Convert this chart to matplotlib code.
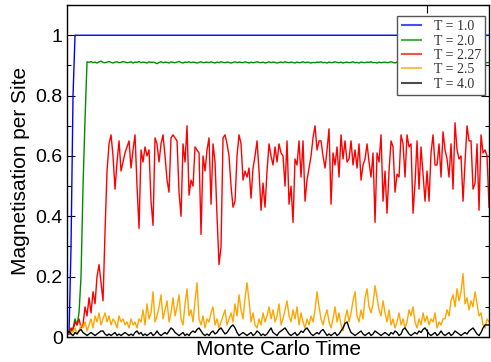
import numpy as np
import matplotlib
matplotlib.use("Agg")
import matplotlib.pyplot as plt
from matplotlib.ticker import MultipleLocator, FormatStrFormatter

# Monte Carlo sweeps between stored samples
step = 50

# magnetisation per site for each temperature
m_t10 = [0.01, 0.01, 0.30, 0.80] + [1.0] * 208

m_t20 = [0.02, 0.01, 0.02, 0.03, 0.06, 0.04, 0.08, 0.20, 0.50, 0.72,
         0.912, 0.910, 0.913, 0.909, 0.911, 0.908, 0.912, 0.914, 0.910, 0.909,
         0.911, 0.913, 0.910, 0.908, 0.911, 0.912, 0.909, 0.910, 0.913, 0.911,
         0.909, 0.910, 0.912, 0.908, 0.911, 0.910, 0.913, 0.909, 0.911, 0.910,
         0.908, 0.912, 0.910, 0.911, 0.909, 0.906, 0.910, 0.912, 0.909, 0.911,
         0.910, 0.908, 0.912, 0.910, 0.909, 0.911, 0.913, 0.910, 0.908, 0.911,
         0.910, 0.912, 0.909, 0.911, 0.910, 0.908, 0.910, 0.912, 0.909, 0.910,
         0.911, 0.909, 0.912, 0.910, 0.908, 0.911, 0.909, 0.912, 0.910, 0.909,
         0.911, 0.910, 0.908, 0.910, 0.912, 0.909, 0.911, 0.910, 0.909, 0.912,
         0.910, 0.908, 0.911, 0.909, 0.910, 0.912, 0.910, 0.909, 0.911, 0.908,
         0.910, 0.912, 0.909, 0.911, 0.910, 0.908, 0.910, 0.911, 0.909, 0.912,
         0.910, 0.909, 0.911, 0.910, 0.908, 0.911, 0.909, 0.910, 0.912, 0.909,
         0.911, 0.910, 0.908, 0.910, 0.909, 0.911, 0.910, 0.912, 0.909, 0.910,
         0.908, 0.911, 0.909, 0.910, 0.912, 0.910, 0.909, 0.911, 0.908, 0.910,
         0.911, 0.909, 0.910, 0.912, 0.909, 0.910, 0.908, 0.911, 0.910, 0.909,
         0.911, 0.910, 0.912, 0.909, 0.910, 0.908, 0.911, 0.909, 0.910, 0.911,
         0.909, 0.910, 0.912, 0.910, 0.908, 0.911, 0.909, 0.910, 0.911, 0.909,
         0.910, 0.908, 0.911, 0.910, 0.912, 0.909, 0.910, 0.911, 0.909, 0.910,
         0.908, 0.911, 0.910, 0.909, 0.911, 0.910, 0.908, 0.910, 0.912, 0.909,
         0.910, 0.911, 0.909, 0.910, 0.908, 0.911, 0.910, 0.909, 0.911, 0.910,
         0.909, 0.911, 0.910, 0.908, 0.910, 0.911, 0.909, 0.910, 0.912, 0.910,
         0.909, 0.910]

m_t227 = [0.02, 0.01, 0.03, 0.02, 0.05, 0.04, 0.06, 0.03, 0.04, 0.10,
          0.07, 0.13, 0.08, 0.15, 0.11, 0.20, 0.24, 0.18, 0.12, 0.35,
          0.55, 0.64, 0.67,
          0.60, 0.49, 0.58, 0.65, 0.55, 0.58, 0.61, 0.63, 0.65, 0.56,
          0.62, 0.67, 0.50, 0.36, 0.62, 0.58, 0.63, 0.60, 0.62, 0.45,
          0.37, 0.66, 0.64, 0.58, 0.64, 0.67, 0.60, 0.52, 0.48, 0.66,
          0.67, 0.66, 0.65, 0.48, 0.40, 0.64, 0.58, 0.70, 0.47, 0.52,
          0.50, 0.63, 0.62, 0.61, 0.34, 0.60, 0.55, 0.62, 0.66, 0.44,
          0.64, 0.58, 0.40, 0.24, 0.30, 0.66, 0.67, 0.64, 0.60, 0.50,
          0.43, 0.45, 0.60, 0.67, 0.64, 0.52, 0.55, 0.53, 0.56, 0.46,
          0.56, 0.60, 0.65, 0.55, 0.42, 0.51, 0.43, 0.55, 0.64, 0.60,
          0.57, 0.63, 0.58, 0.64,
          0.61, 0.60, 0.50, 0.65, 0.44, 0.50, 0.38, 0.59, 0.57, 0.65,
          0.53, 0.65, 0.45, 0.52, 0.56, 0.60, 0.66, 0.70, 0.62, 0.65,
          0.65, 0.60, 0.56, 0.62, 0.69, 0.44, 0.61, 0.57, 0.63, 0.53,
          0.67, 0.59, 0.65, 0.58, 0.59, 0.65, 0.57, 0.62, 0.56, 0.64,
          0.52, 0.57, 0.59, 0.64, 0.58, 0.53, 0.61, 0.38, 0.61, 0.58,
          0.67, 0.45, 0.55,
          0.41, 0.55, 0.65, 0.63, 0.48, 0.54, 0.53, 0.67, 0.64, 0.53,
          0.67, 0.63, 0.64, 0.41, 0.51, 0.65, 0.49, 0.63, 0.54, 0.45,
          0.55, 0.45, 0.61, 0.67, 0.57, 0.57, 0.64, 0.53, 0.68, 0.62,
          0.59, 0.53, 0.64, 0.49, 0.71, 0.62, 0.59, 0.60, 0.45, 0.58,
          0.70, 0.65, 0.65, 0.49, 0.51, 0.64, 0.42, 0.67, 0.61, 0.62,
          0.60, 0.43]

m_t25 = [0.01, 0.02, 0.01, 0.02, 0.03, 0.01, 0.02,
         0.04, 0.03, 0.05, 0.02, 0.04, 0.06, 0.03,
         0.07, 0.05, 0.08, 0.04, 0.06, 0.08, 0.05, 0.07, 0.04, 0.06,
         0.05, 0.03, 0.07, 0.05, 0.06, 0.04, 0.05, 0.03, 0.06, 0.04, 0.05, 0.03, 0.06,
         0.05, 0.09, 0.04, 0.11, 0.06, 0.08, 0.15, 0.05, 0.07,
         0.10, 0.14, 0.06, 0.09, 0.12, 0.05, 0.08, 0.13, 0.07, 0.10,
         0.14, 0.06, 0.04, 0.11, 0.16, 0.07, 0.09, 0.05, 0.12, 0.18, 0.06,
         0.04, 0.07, 0.03, 0.06, 0.05, 0.08, 0.10, 0.04, 0.06, 0.03,
         0.05, 0.07, 0.09, 0.04, 0.06, 0.08, 0.05, 0.11, 0.07, 0.14,
         0.09, 0.06, 0.13, 0.18,
         0.12, 0.05, 0.08, 0.04, 0.03, 0.06, 0.04, 0.08, 0.05, 0.07,
         0.10, 0.06, 0.09, 0.05, 0.07, 0.11, 0.04, 0.06, 0.09, 0.12,
         0.07, 0.05, 0.09, 0.06, 0.10, 0.04, 0.08, 0.05, 0.03, 0.06,
         0.04, 0.07, 0.05, 0.09, 0.15,
         0.10, 0.06, 0.04, 0.07, 0.09, 0.05, 0.03, 0.06, 0.10, 0.05,
         0.08, 0.04, 0.02, 0.06, 0.09, 0.05, 0.08, 0.12, 0.15, 0.07,
         0.05, 0.09, 0.06,
         0.13, 0.16, 0.10, 0.08, 0.11, 0.17, 0.13, 0.09, 0.07, 0.12,
         0.08, 0.05, 0.09, 0.04, 0.06, 0.03, 0.05, 0.08, 0.04,
         0.06, 0.03, 0.05, 0.09, 0.07, 0.10, 0.05, 0.03, 0.06, 0.04,
         0.08, 0.05, 0.07, 0.04, 0.06, 0.05, 0.08, 0.03, 0.05, 0.04, 0.06,
         0.06, 0.09, 0.07, 0.12, 0.14, 0.10, 0.16, 0.12, 0.15, 0.21,
         0.11, 0.13, 0.09, 0.12, 0.10, 0.15, 0.11, 0.07, 0.08, 0.04,
         0.03, 0.06, 0.05]

m_t40 = [0.01, 0.02, 0.01, 0.005, 0.015, 0.01, 0.02, 0.025, 0.015, 0.01,
         0.005, 0.01, 0.015, 0.01, 0.005, 0.01, 0.015, 0.02, 0.02, 0.01,
         0.005, 0.01, 0.005, 0.01, 0.015, 0.005, 0.01, 0.005, 0.01, 0.015,
         0.01, 0.005, 0.01, 0.005, 0.015, 0.02, 0.01, 0.015, 0.005, 0.01,
         0.005, 0.01, 0.015, 0.005, 0.01, 0.02, 0.01, 0.005, 0.01, 0.015,
         0.01, 0.02, 0.03, 0.025, 0.015, 0.01, 0.005, 0.01, 0.015, 0.005,
         0.01, 0.005, 0.015, 0.02, 0.015, 0.025, 0.03, 0.02, 0.01, 0.005,
         0.01, 0.005, 0.015, 0.02, 0.01, 0.015, 0.025, 0.03, 0.02, 0.01,
         0.015, 0.025, 0.035, 0.04, 0.03, 0.015, 0.005, 0.01, 0.015, 0.01,
         0.005, 0.01, 0.015, 0.005, 0.01, 0.02, 0.015, 0.005, 0.01, 0.005,
         0.01, 0.02, 0.03, 0.015, 0.01, 0.005, 0.015, 0.02, 0.025, 0.03,
         0.02, 0.01, 0.005, 0.01, 0.015, 0.005, 0.01, 0.02, 0.015, 0.025,
         0.03, 0.02, 0.01, 0.005, 0.01, 0.015, 0.01, 0.02, 0.025, 0.015,
         0.005, 0.01, 0.005, 0.01, 0.015, 0.005, 0.01, 0.02, 0.03, 0.045,
         0.05, 0.03, 0.015, 0.01, 0.005, 0.01, 0.015, 0.02, 0.01, 0.005,
         0.01, 0.015, 0.005, 0.01, 0.02, 0.015, 0.01, 0.005, 0.01, 0.015,
         0.01, 0.005, 0.015, 0.01, 0.02, 0.015, 0.005, 0.01, 0.025, 0.03,
         0.02, 0.01, 0.005, 0.01, 0.015, 0.01, 0.02, 0.015, 0.025, 0.03,
         0.02, 0.01, 0.005, 0.01, 0.015, 0.005, 0.01, 0.02, 0.01, 0.005,
         0.01, 0.015, 0.005, 0.01, 0.02, 0.015, 0.01, 0.005, 0.01, 0.015,
         0.01, 0.02, 0.025, 0.03, 0.02, 0.01, 0.005, 0.015, 0.03, 0.04,
         0.04, 0.04]

labels = ["T = 1.0", "T = 2.0", "T = 2.27", "T = 2.5", "T = 4.0"]
colors = ["#0000ff", "#008c00", "#ff0000", "#ffa500", "#000000"]
series = [m_t10, m_t20, m_t227, m_t25, m_t40]

fig = plt.figure(figsize=(4.91, 3.62), dpi=100)
ax = fig.add_axes([0.1365, 0.069, 0.8595, 0.917])

for ys, lab, col in zip(series, labels, colors):
    xs = np.arange(len(ys)) * step
    ax.plot(xs, ys, color=col, lw=1.0, label=lab)

ax.set_xlim(0, 211 * step)
ax.set_ylim(0, 1.1)

ax.set_xticks([9000])
ax.set_xticklabels([])
ax.yaxis.set_major_locator(MultipleLocator(0.2))
ax.yaxis.set_minor_locator(MultipleLocator(0.1))
ax.yaxis.set_major_formatter(FormatStrFormatter("%g"))
ax.tick_params(which="both", direction="in", top=True, right=True, colors="black")
ax.tick_params(which="major", length=6, width=0.8, labelsize=14, pad=3)
ax.tick_params(which="minor", length=3, width=0.8)
for lbl in ax.get_yticklabels():
    lbl.set_family("Liberation Sans")

for sp in ax.spines.values():
    sp.set_linewidth(1.0)

ax.set_xlabel("Monte Carlo Time", family="Liberation Sans", fontsize=15, labelpad=-1)
ax.set_ylabel("Magnetisation per Site", family="Liberation Sans", fontsize=15, labelpad=4)

leg = ax.legend(loc="upper right", bbox_to_anchor=(0.9905, 0.967), borderaxespad=0,
                prop={"family": "Liberation Serif", "size": 10}, fancybox=False,
                edgecolor="#555555", framealpha=1.0, handlelength=1.4,
                labelspacing=0.1, borderpad=0.3, handletextpad=0.9)
leg.get_frame().set_linewidth(1.0)
for h in leg.legend_handles:
    h.set_alpha(0.7)
    h.set_linewidth(1.5)
for t in leg.get_texts():
    t.set_color("#333333")

fig.savefig("out.png", dpi=100)
